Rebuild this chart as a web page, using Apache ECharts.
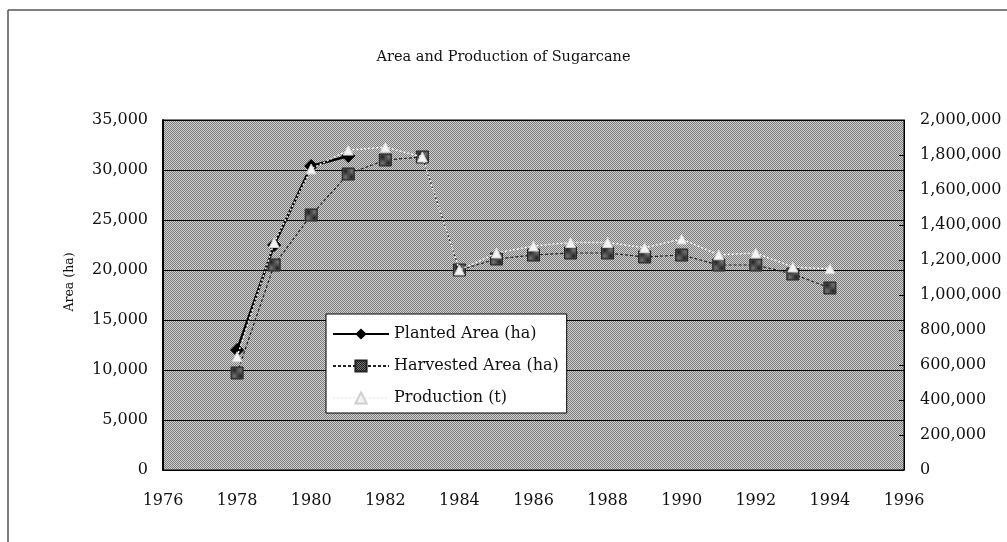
<!DOCTYPE html>
<html>
<head>
<meta charset="utf-8">
<script src="https://cdn.jsdelivr.net/npm/echarts@6/dist/echarts.min.js"></script>
<style>
html,body{margin:0;padding:0;background:#fff;}
#chart{width:1007px;height:542px;}
</style>
</head>
<body>
<div id="chart"></div>
<script>
var titleText = 'Area and Production of Sugarcane';
var years = [1978, 1979, 1980, 1981, 1982, 1983, 1984, 1985, 1986, 1987, 1988, 1989, 1990, 1991, 1992, 1993, 1994];
var plantedArea = [12000, 22500, 30400, 31400, null, null, null, null, null, null, null, null, null, null, null, null, null];
var harvestedArea = [9700, 20500, 25500, 29600, 31000, 31300, 20000, 21100, 21500, 21700, 21700, 21300, 21500, 20500, 20500, 19600, 18200];
var production = [647000, 1300000, 1720000, 1828000, 1845000, 1789000, 1143000, 1240000, 1280000, 1300000, 1300000, 1270000, 1320000, 1230000, 1240000, 1160000, 1150000];
var seriesNames = ['Planted Area (ha)', 'Harvested Area (ha)', 'Production (t)'];
var leftAxisName = 'Area (ha)';

function pairs(vals) {
  var out = [];
  for (var i = 0; i < years.length; i++) {
    if (vals[i] !== null) out.push([years[i], vals[i]]);
  }
  return out;
}
function fmt(v) {
  return String(v).replace(/\B(?=(\d{3})+(?!\d))/g, ',');
}
function checker(c1, c2) {
  var cv = document.createElement('canvas');
  cv.width = 2; cv.height = 2;
  var ctx = cv.getContext('2d');
  ctx.fillStyle = c1; ctx.fillRect(0, 0, 2, 2);
  ctx.fillStyle = c2; ctx.fillRect(1, 0, 1, 1); ctx.fillRect(0, 1, 1, 1);
  return {image: cv, repeat: 'repeat'};
}
var FONT = 'DejaVu Serif';

var chart = echarts.init(document.getElementById('chart'), null, {renderer: 'canvas'});
chart.setOption({
  animation: false,
  backgroundColor: '#ffffff',
  title: {
    text: titleText,
    left: 'center',
    top: 45,
    textStyle: {fontFamily: FONT, fontSize: 14.5, fontWeight: 'normal', color: '#111'}
  },
  graphic: [
    {type: 'line', shape: {x1: 8, y1: 10, x2: 1007, y2: 10}, style: {stroke: '#555', lineWidth: 1.5}},
    {type: 'line', shape: {x1: 8, y1: 10, x2: 8, y2: 542}, style: {stroke: '#555', lineWidth: 1.5}}
  ],
  grid: {
    left: 163, right: 103, top: 120, bottom: 72,
    show: true, backgroundColor: checker('#7c7c7c', '#d0d0d0'), borderColor: '#000', borderWidth: 1
  },
  legend: {
    orient: 'vertical',
    left: 326, top: 314,
    padding: [12, 8, 7, 6],
    backgroundColor: '#ffffff',
    borderColor: '#000', borderWidth: 1,
    itemWidth: 56, itemHeight: 14, itemGap: 16,
    textStyle: {fontFamily: FONT, fontSize: 16, color: '#111'},
    data: seriesNames
  },
  xAxis: {
    type: 'value', min: 1976, max: 1996, interval: 2,
    axisLine: {show: true, lineStyle: {color: '#000', width: 1}},
    axisTick: {show: false},
    splitLine: {show: false},
    axisLabel: {margin: 23, fontFamily: FONT, fontSize: 16, color: '#111', formatter: function (v) { return String(v); }}
  },
  yAxis: [
    {
      type: 'value', min: 0, max: 35000, interval: 5000,
      name: leftAxisName, nameLocation: 'middle', nameGap: 87,
      nameTextStyle: {fontFamily: FONT, fontSize: 12.5, color: '#111', padding: [0, 0, 0, 26]},
      axisLine: {show: true, lineStyle: {color: '#000', width: 2}},
      axisTick: {show: false},
      splitLine: {show: true, lineStyle: {color: '#000', width: 1}},
      axisLabel: {margin: 15, fontFamily: FONT, fontSize: 16, color: '#111', formatter: fmt}
    },
    {
      type: 'value', min: 0, max: 2000000, interval: 200000,
      position: 'right',
      axisLine: {show: true, lineStyle: {color: '#000', width: 1}},
      axisTick: {show: true, inside: true, length: 5, lineStyle: {color: '#000'}},
      splitLine: {show: false},
      axisLabel: {margin: 16, fontFamily: FONT, fontSize: 16, color: '#111', formatter: fmt}
    }
  ],
  series: [
    {
      name: seriesNames[0], type: 'line', yAxisIndex: 0,
      data: pairs(plantedArea),
      symbol: 'diamond', symbolSize: 13, showSymbol: true,
      lineStyle: {color: '#000', width: 2.5},
      itemStyle: {color: '#000', borderColor: '#000'},
      z: 3
    },
    {
      name: seriesNames[1], type: 'line', yAxisIndex: 0,
      data: pairs(harvestedArea),
      symbol: 'rect', symbolSize: 12,
      lineStyle: {color: '#222', width: 1.2, type: [3, 2]},
      itemStyle: {color: checker('#1c1c1c', '#7a7a7a'), borderColor: '#222', borderWidth: 1},
      z: 4
    },
    {
      name: seriesNames[2], type: 'line', yAxisIndex: 1,
      data: pairs(production),
      symbol: 'triangle', symbolSize: 10,
      lineStyle: {color: '#f2f2f2', width: 1.5, type: [2, 2]},
      itemStyle: {color: '#f4f4f4', borderColor: '#cfcfcf', borderWidth: 1},
      z: 5
    }
  ]
});
</script>
</body>
</html>
